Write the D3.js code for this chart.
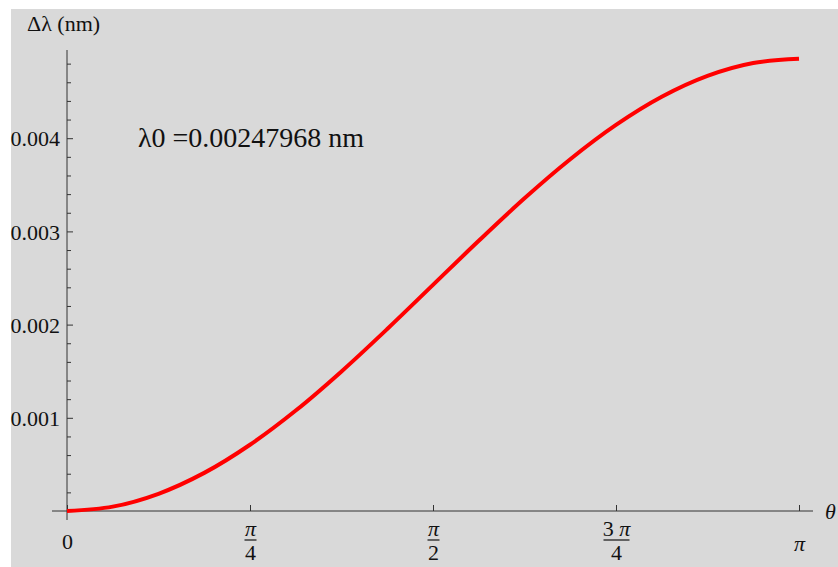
<!DOCTYPE html>
<html>
<head>
<meta charset="utf-8">
<script src="https://cdn.jsdelivr.net/npm/d3@7"></script>
<style>
  html, body { margin: 0; padding: 0; background: #ffffff; }
  svg { display: block; }
  svg text { font-family: "Liberation Serif", "Times New Roman", Tinos, "DejaVu Serif", serif !important; fill: #111; }
</style>
</head>
<body>
<svg id="chart" width="838" height="567"></svg>
<script>
// ---- data ----
const thetaFractions = [0, 1/16, 2/16, 3/16, 4/16, 5/16, 6/16, 7/16, 8/16, 9/16, 10/16, 11/16, 12/16, 13/16, 14/16, 15/16, 1];
const deltaLambda = [0, 0.0000466, 0.000185, 0.000409, 0.000711, 0.001078, 0.001498, 0.001953, 0.002426,
                     0.002899, 0.003355, 0.003774, 0.004142, 0.004444, 0.004668, 0.004806, 0.004852];
const xTickFractions = [0, 0.25, 0.5, 0.75, 1];
const xTickLabels = [["0"], ["π", "4"], ["π", "2"], ["3 π", "4"], ["π"]];
const yMajorTicks = [0.001, 0.002, 0.003, 0.004];
const yMinorTicks = [0.0002, 0.0004, 0.0006, 0.0008, 0.0012, 0.0014, 0.0016, 0.0018, 0.0022, 0.0024, 0.0026, 0.0028,
                     0.0032, 0.0034, 0.0036, 0.0038, 0.0042, 0.0044, 0.0046, 0.0048];
const yLabelText = "Δλ (nm)";
const xLabelText = "θ";
const annotationText = "λ0 =0.00247968 nm";

const PI = Math.PI;
const FONT = '"Liberation Serif", "Times New Roman", Tinos, "DejaVu Serif", serif';
const svg = d3.select("#chart");

svg.append("rect").attr("x", 11).attr("y", 9).attr("width", 827).attr("height", 558).attr("fill", "#d9d9d9");

const x = d3.scaleLinear().domain([0, PI]).range([67, 799]);
const y = d3.scaleLinear().domain([0, 0.005]).range([511, 45]);

const axisColor = "#333";

// x axis
const xAxisG = svg.append("g").attr("transform", `translate(0,${y(0)})`)
  .call(d3.axisBottom(x).tickValues(xTickFractions.map(f => f * PI)).tickSizeInner(-6).tickSizeOuter(0).tickFormat(""));
xAxisG.attr("font-family", FONT);
xAxisG.select(".domain").remove();
xAxisG.selectAll(".tick line").attr("stroke", axisColor);
xAxisG.append("line").attr("x1", 52).attr("x2", 813).attr("y1", 0).attr("y2", 0).attr("stroke", axisColor);
xAxisG.selectAll(".tick").each(function(d, i) {
  const g = d3.select(this);
  const lab = xTickLabels[i];
  if (lab.length === 1) {
    g.append("text").attr("y", i === 0 ? 38 : 40).attr("text-anchor", "middle")
      .style("font-size", "22px").style("font-style", i === 0 ? "normal" : "italic").text(lab[0]);
  } else {
    const t = g.append("text").attr("y", 25).attr("text-anchor", "middle").style("font-size", "22px");
    if (lab[0].startsWith("3")) {
      t.append("tspan").text("3 ");
      t.append("tspan").style("font-style", "italic").text("π");
    } else {
      t.append("tspan").style("font-style", "italic").text("π");
    }
    const w = lab[0].startsWith("3") ? 26 : 12;
    g.append("line").attr("x1", -w / 2).attr("x2", w / 2).attr("y1", 29).attr("y2", 29).attr("stroke", "#111").attr("stroke-width", 1.2);
    g.append("text").attr("y", 49).attr("text-anchor", "middle").style("font-size", "22px").text(lab[1]);
  }
});

// y axis
const yAxisG = svg.append("g").attr("transform", `translate(${x(0)},0)`)
  .call(d3.axisLeft(y).tickValues(yMajorTicks).tickSizeInner(-6).tickSizeOuter(0).tickPadding(7).tickFormat(d3.format(".3f")));
yAxisG.attr("font-family", FONT);
yAxisG.select(".domain").remove();
yAxisG.selectAll(".tick line").attr("stroke", axisColor);
yAxisG.selectAll(".tick text").style("font-size", "22px").attr("fill", "#111").attr("dy", "0.35em");
const yMinorG = svg.append("g").attr("transform", `translate(${x(0)},0)`)
  .call(d3.axisLeft(y).tickValues(yMinorTicks).tickSizeInner(-4).tickSizeOuter(0).tickFormat(""));
yMinorG.select(".domain").remove();
yMinorG.selectAll(".tick line").attr("stroke", axisColor);
svg.append("line").attr("x1", x(0)).attr("x2", x(0)).attr("y1", 50).attr("y2", 520).attr("stroke", axisColor);

// axis labels
svg.append("text").attr("x", 27).attr("y", 31).style("font-size", "22px").text(yLabelText);
svg.append("text").attr("x", 825).attr("y", 519).style("font-size", "22px").style("font-style", "italic").text(xLabelText);

// annotation
svg.append("text").attr("x", 138).attr("y", 147).style("font-size", "28px").text(annotationText);

// curve
const line = d3.line().x((d, i) => x(thetaFractions[i] * PI)).y(d => y(d)).curve(d3.curveCatmullRom.alpha(0.5));
svg.append("path").datum(deltaLambda).attr("d", line).attr("fill", "none").attr("stroke", "#ff0000").attr("stroke-width", 4);
</script>
</body>
</html>
